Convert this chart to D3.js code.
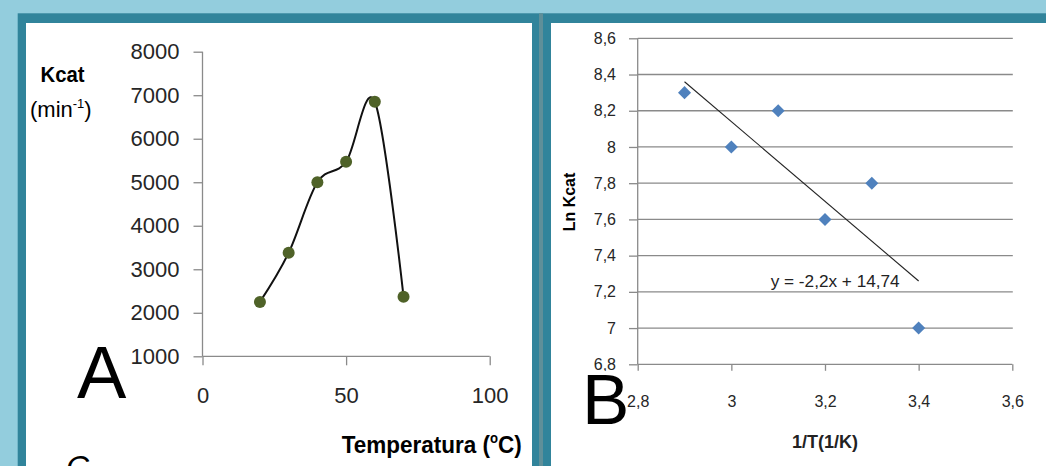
<!DOCTYPE html>
<html>
<head>
<meta charset="utf-8">
<script src="https://d3js.org/d3.v7.min.js"></script>
<style>
  body { margin: 0; background: #93cddd; }
  svg { display: block; font-family: "Liberation Sans", Arial, sans-serif; }
  .axA path, .axA line { stroke: #8a8a8a; stroke-width: 1.3; }
  .axA text { font-size: 22px; fill: #262626; }
  .axB path, .axB line { stroke: #8a8a8a; stroke-width: 1.3; }
  .axB text { font-size: 16px; fill: #262626; }
  .grid line { stroke: #8a8a8a; stroke-width: 1.3; }
</style>
</head>
<body>
<svg width="1046" height="466"></svg>
<script>
// panel A: kcat vs temperature
var tempC = [20, 30, 40, 50, 60, 70];
var kcat = [2250, 3380, 5000, 5470, 6850, 2370];
var xTicksA = [0, 50, 100];
var yTicksA = [1000, 2000, 3000, 4000, 5000, 6000, 7000, 8000];

// panel B: Arrhenius plot
var invT = [2.9, 3.0, 3.1, 3.2, 3.3, 3.4];
var lnKcat = [8.3, 8.0, 8.2, 7.6, 7.8, 7.0];
var trendSlope = -2.2, trendIntercept = 14.74;
var xTicksB = [2.8, 3.0, 3.2, 3.4, 3.6];
var yTicksB = [6.8, 7.0, 7.2, 7.4, 7.6, 7.8, 8.0, 8.2, 8.4, 8.6];

var svg = d3.select("svg");
var comma = function(v) { return String(+v.toFixed(2)).replace(".", ","); };
var plain = d3.format("d");

// ---- frames ----
svg.append("rect").attr("width", 1046).attr("height", 466).attr("fill", "#93cddd");
svg.append("rect").attr("x", 17.7).attr("y", 13.3).attr("width", 1100).attr("height", 500).attr("fill", "#31849b");
svg.append("rect").attr("x", 539).attr("y", 13.3).attr("width", 4).attr("height", 500).attr("fill", "#5f8f99");
svg.append("rect").attr("x", 26).attr("y", 23).attr("width", 506).attr("height", 500).attr("fill", "#fff");
svg.append("rect").attr("x", 551).attr("y", 23).attr("width", 500).attr("height", 500).attr("fill", "#fff");

// ---- panel A ----
var xA = d3.scaleLinear().domain([0, 100]).range([202.5, 489.7]);
var yA = d3.scaleLinear().domain([1000, 8000]).range([356.3, 51.7]);

svg.append("g").attr("class", "axA")
    .attr("transform", "translate(" + xA(0) + ",0)")
    .call(d3.axisLeft(yA).tickValues(yTicksA).tickFormat(plain).tickSize(9).tickSizeOuter(0).tickPadding(14))
  .select(".domain").attr("d", "M0," + yA(8000) + "V" + yA(1000));

svg.append("g").attr("class", "axA")
    .attr("transform", "translate(0," + yA(1000) + ")")
    .call(d3.axisBottom(xA).tickValues(xTicksA).tickFormat(plain).tickSize(9).tickSizeOuter(0).tickPadding(22))
  .select(".domain").attr("d", "M" + xA(0) + ",0H" + xA(100));

var ptsA = tempC.map(function(t, i) { return [t, kcat[i]]; });
svg.append("path")
    .attr("d", d3.line().x(function(d) { return xA(d[0]); }).y(function(d) { return yA(d[1]); })
      .curve(d3.curveCardinal.tension(0))(ptsA))
    .attr("fill", "none").attr("stroke", "#111").attr("stroke-width", 2);

svg.append("g").selectAll("circle").data(ptsA).enter().append("circle")
    .attr("cx", function(d) { return xA(d[0]); })
    .attr("cy", function(d) { return yA(d[1]); })
    .attr("r", 6).attr("fill", "#4f6228");

svg.append("text").attr("x", 40.6).attr("y", 82).attr("font-size", 22).attr("font-weight", "bold")
    .attr("textLength", 44).attr("lengthAdjust", "spacingAndGlyphs").text("Kcat");
var mn = svg.append("text").attr("x", 30).attr("y", 117).attr("font-size", 22);
mn.append("tspan").text("(min");
mn.append("tspan").attr("font-size", 13).attr("dy", -9).text("-1");
mn.append("tspan").attr("dy", 9).text(")");

var tl = svg.append("text").attr("x", 341.7).attr("y", 453).attr("font-size", 24).attr("font-weight", "bold")
    .attr("textLength", 180).attr("lengthAdjust", "spacingAndGlyphs");
tl.append("tspan").text("Temperatura (");
tl.append("tspan").attr("font-size", 14).attr("dy", -10).text("o");
tl.append("tspan").attr("dy", 10).text("C)");

svg.append("text").attr("x", 77).attr("y", 398).attr("font-size", 74).text("A");
svg.append("text").attr("x", 66).attr("y", 478).attr("font-size", 32).attr("font-style", "italic").text("C");

// ---- panel B ----
var xB = d3.scaleLinear().domain([2.8, 3.6]).range([637.7, 1012.3]);
var yB = d3.scaleLinear().domain([6.8, 8.6]).range([364.3, 38.3]);

svg.append("g").attr("class", "grid").selectAll("line").data(yTicksB.slice(1)).enter().append("line")
    .attr("x1", xB(2.8)).attr("x2", xB(3.6) + 0.5)
    .attr("y1", function(d) { return yB(d); }).attr("y2", function(d) { return yB(d); });

svg.append("g").attr("class", "axB")
    .attr("transform", "translate(" + xB(2.8) + ",0)")
    .call(d3.axisLeft(yB).tickValues(yTicksB).tickFormat(comma).tickSize(8.7).tickSizeOuter(0).tickPadding(13))
  .select(".domain").attr("d", "M0," + yB(8.6) + "V" + yB(6.8));

svg.append("g").attr("class", "axB")
    .attr("transform", "translate(0," + yB(6.8) + ")")
    .call(d3.axisBottom(xB).tickValues(xTicksB).tickFormat(comma).tickSize(6.5).tickSizeOuter(0).tickPadding(25))
  .select(".domain").attr("d", "M" + xB(2.8) + ",0H" + xB(3.6));

svg.append("line")
    .attr("x1", xB(2.9)).attr("y1", yB(trendSlope * 2.9 + trendIntercept))
    .attr("x2", xB(3.4)).attr("y2", yB(trendSlope * 3.4 + trendIntercept))
    .attr("stroke", "#222").attr("stroke-width", 1.1);

svg.append("g").selectAll("path").data(invT).enter().append("path")
    .attr("d", d3.symbol(d3.symbolSquare, 85))
    .attr("transform", function(d, i) { return "translate(" + xB(d) + "," + yB(lnKcat[i]) + ") rotate(45)"; })
    .attr("fill", "#4f81bd");

svg.append("text").attr("x", 770.7).attr("y", 287).attr("font-size", 17).attr("fill", "#222")
    .attr("textLength", 129).attr("lengthAdjust", "spacingAndGlyphs")
    .text("y = " + comma(trendSlope) + "x + " + comma(trendIntercept));

svg.append("text").attr("transform", "translate(575,202) rotate(-90)").attr("text-anchor", "middle")
    .attr("font-size", 16).attr("font-weight", "bold").text("Ln Kcat");
svg.append("text").attr("x", 825).attr("y", 448).attr("text-anchor", "middle")
    .attr("font-size", 18).attr("font-weight", "bold").attr("fill", "#222").text("1/T(1/K)");

svg.append("rect").attr("x", 585).attr("y", 371).attr("width", 40).attr("height", 56).attr("fill", "#fff");
svg.append("text").attr("x", 582).attr("y", 424).attr("font-size", 71).text("B");
</script>
</body>
</html>
